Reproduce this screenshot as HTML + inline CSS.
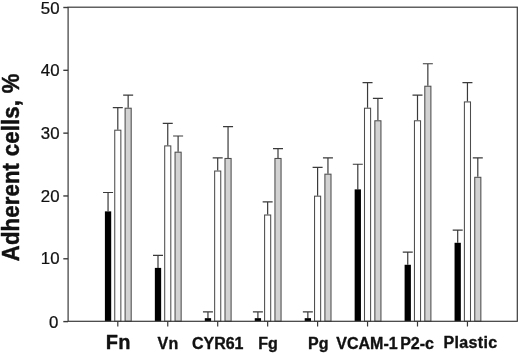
<!DOCTYPE html>
<html><head><meta charset="utf-8"><title>Adherent cells</title>
<style>html,body{margin:0;padding:0;background:#fff}body{width:520px;height:353px;overflow:hidden}</style>
</head><body>
<svg width="520" height="353" viewBox="0 0 520 353" style="display:block">
<rect width="520" height="353" fill="#fff"/>
<g font-family="'Liberation Sans', Arial, sans-serif" fill="#111">
<path d="M108.05 211.37V192.52M103.05 192.52H113.05" stroke="#3a3a3a" stroke-width="1.2" fill="none"/>
<rect x="104.90" y="211.37" width="6.3" height="109.94" fill="#000"/>
<path d="M117.80 129.70V107.71M112.80 107.71H122.80" stroke="#3a3a3a" stroke-width="1.2" fill="none"/>
<rect x="114.75" y="130.20" width="6.1" height="191.10" fill="#fff" stroke="#4c4c4c" stroke-width="1.05"/>
<path d="M128.15 107.71V95.15M123.15 95.15H133.15" stroke="#3a3a3a" stroke-width="1.2" fill="none"/>
<rect x="125.10" y="108.21" width="6.1" height="213.09" fill="#d2d2d2" stroke="#4c4c4c" stroke-width="1.05"/>
<path d="M158.00 267.90V255.34M153.00 255.34H163.00" stroke="#3a3a3a" stroke-width="1.2" fill="none"/>
<rect x="154.85" y="267.90" width="6.3" height="53.40" fill="#000"/>
<path d="M167.75 145.40V123.42M162.75 123.42H172.75" stroke="#3a3a3a" stroke-width="1.2" fill="none"/>
<rect x="164.70" y="145.90" width="6.1" height="175.40" fill="#fff" stroke="#4c4c4c" stroke-width="1.05"/>
<path d="M178.10 151.69V135.98M173.10 135.98H183.10" stroke="#3a3a3a" stroke-width="1.2" fill="none"/>
<rect x="175.05" y="152.19" width="6.1" height="169.11" fill="#d2d2d2" stroke="#4c4c4c" stroke-width="1.05"/>
<path d="M207.95 318.16V311.88M202.95 311.88H212.95" stroke="#3a3a3a" stroke-width="1.2" fill="none"/>
<rect x="204.80" y="318.16" width="6.3" height="3.14" fill="#000"/>
<path d="M217.70 170.53V157.97M212.70 157.97H222.70" stroke="#3a3a3a" stroke-width="1.2" fill="none"/>
<rect x="214.65" y="171.03" width="6.1" height="150.27" fill="#fff" stroke="#4c4c4c" stroke-width="1.05"/>
<path d="M228.05 157.97V126.56M223.05 126.56H233.05" stroke="#3a3a3a" stroke-width="1.2" fill="none"/>
<rect x="225.00" y="158.47" width="6.1" height="162.83" fill="#d2d2d2" stroke="#4c4c4c" stroke-width="1.05"/>
<path d="M257.90 318.16V311.88M252.90 311.88H262.90" stroke="#3a3a3a" stroke-width="1.2" fill="none"/>
<rect x="254.75" y="318.16" width="6.3" height="3.14" fill="#000"/>
<path d="M267.65 214.51V201.94M262.65 201.94H272.65" stroke="#3a3a3a" stroke-width="1.2" fill="none"/>
<rect x="264.60" y="215.01" width="6.1" height="106.29" fill="#fff" stroke="#4c4c4c" stroke-width="1.05"/>
<path d="M278.00 157.97V148.55M273.00 148.55H283.00" stroke="#3a3a3a" stroke-width="1.2" fill="none"/>
<rect x="274.95" y="158.47" width="6.1" height="162.83" fill="#d2d2d2" stroke="#4c4c4c" stroke-width="1.05"/>
<path d="M307.85 318.16V311.88M302.85 311.88H312.85" stroke="#3a3a3a" stroke-width="1.2" fill="none"/>
<rect x="304.70" y="318.16" width="6.3" height="3.14" fill="#000"/>
<path d="M317.60 195.66V167.39M312.60 167.39H322.60" stroke="#3a3a3a" stroke-width="1.2" fill="none"/>
<rect x="314.55" y="196.16" width="6.1" height="125.14" fill="#fff" stroke="#4c4c4c" stroke-width="1.05"/>
<path d="M327.95 173.67V157.97M322.95 157.97H332.95" stroke="#3a3a3a" stroke-width="1.2" fill="none"/>
<rect x="324.90" y="174.17" width="6.1" height="147.13" fill="#d2d2d2" stroke="#4c4c4c" stroke-width="1.05"/>
<path d="M357.80 189.38V164.25M352.80 164.25H362.80" stroke="#3a3a3a" stroke-width="1.2" fill="none"/>
<rect x="354.65" y="189.38" width="6.3" height="131.92" fill="#000"/>
<path d="M367.55 107.71V82.58M362.55 82.58H372.55" stroke="#3a3a3a" stroke-width="1.2" fill="none"/>
<rect x="364.50" y="108.21" width="6.1" height="213.09" fill="#fff" stroke="#4c4c4c" stroke-width="1.05"/>
<path d="M377.90 120.28V98.29M372.90 98.29H382.90" stroke="#3a3a3a" stroke-width="1.2" fill="none"/>
<rect x="374.85" y="120.78" width="6.1" height="200.52" fill="#d2d2d2" stroke="#4c4c4c" stroke-width="1.05"/>
<path d="M407.75 264.76V252.20M402.75 252.20H412.75" stroke="#3a3a3a" stroke-width="1.2" fill="none"/>
<rect x="404.60" y="264.76" width="6.3" height="56.54" fill="#000"/>
<path d="M417.50 120.28V95.15M412.50 95.15H422.50" stroke="#3a3a3a" stroke-width="1.2" fill="none"/>
<rect x="414.45" y="120.78" width="6.1" height="200.52" fill="#fff" stroke="#4c4c4c" stroke-width="1.05"/>
<path d="M427.85 85.73V63.74M422.85 63.74H432.85" stroke="#3a3a3a" stroke-width="1.2" fill="none"/>
<rect x="424.80" y="86.23" width="6.1" height="235.07" fill="#d2d2d2" stroke="#4c4c4c" stroke-width="1.05"/>
<path d="M457.70 242.78V230.21M452.70 230.21H462.70" stroke="#3a3a3a" stroke-width="1.2" fill="none"/>
<rect x="454.55" y="242.78" width="6.3" height="78.53" fill="#000"/>
<path d="M467.45 101.43V82.58M462.45 82.58H472.45" stroke="#3a3a3a" stroke-width="1.2" fill="none"/>
<rect x="464.40" y="101.93" width="6.1" height="219.37" fill="#fff" stroke="#4c4c4c" stroke-width="1.05"/>
<path d="M477.80 176.81V157.97M472.80 157.97H482.80" stroke="#3a3a3a" stroke-width="1.2" fill="none"/>
<rect x="474.75" y="177.31" width="6.1" height="143.99" fill="#d2d2d2" stroke="#4c4c4c" stroke-width="1.05"/>
<rect x="68.1" y="7.2" width="449.19999999999993" height="314.1" fill="none" stroke="#3a3a3a" stroke-width="1.2"/>
<path d="M63.30 321.60H68.1" stroke="#3a3a3a" stroke-width="1.4"/>
<text transform="translate(58.30 327.95) scale(1.065 1)" font-size="15.8" text-anchor="end" stroke="#111" stroke-width="0.25">0</text>
<path d="M63.30 258.78H68.1" stroke="#3a3a3a" stroke-width="1.4"/>
<text transform="translate(59.50 264.43) scale(1.065 1)" font-size="15.8" text-anchor="end" stroke="#111" stroke-width="0.25">10</text>
<path d="M63.30 195.96H68.1" stroke="#3a3a3a" stroke-width="1.4"/>
<text transform="translate(59.50 201.61) scale(1.065 1)" font-size="15.8" text-anchor="end" stroke="#111" stroke-width="0.25">20</text>
<path d="M63.30 133.14H68.1" stroke="#3a3a3a" stroke-width="1.4"/>
<text transform="translate(59.50 138.79) scale(1.065 1)" font-size="15.8" text-anchor="end" stroke="#111" stroke-width="0.25">30</text>
<path d="M63.30 70.32H68.1" stroke="#3a3a3a" stroke-width="1.4"/>
<text transform="translate(59.50 76.22) scale(1.065 1)" font-size="15.8" text-anchor="end" stroke="#111" stroke-width="0.25">40</text>
<path d="M63.30 7.50H68.1" stroke="#3a3a3a" stroke-width="1.4"/>
<text transform="translate(59.50 13.95) scale(1.065 1)" font-size="15.8" text-anchor="end" stroke="#111" stroke-width="0.25">50</text>
<path d="M117.80 321.3V326.5" stroke="#3a3a3a" stroke-width="1.2"/>
<text x="118.30" y="349.2" font-size="20" font-weight="bold" text-anchor="middle" letter-spacing="0.3" stroke="#111" stroke-width="0.35" stroke-linejoin="round">Fn</text>
<path d="M167.75 321.3V326.5" stroke="#3a3a3a" stroke-width="1.2"/>
<text x="168.05" y="348.6" font-size="16" font-weight="bold" text-anchor="middle" letter-spacing="0.4" stroke="#111" stroke-width="0.35" stroke-linejoin="round">Vn</text>
<path d="M217.70 321.3V326.5" stroke="#3a3a3a" stroke-width="1.2"/>
<text x="217.70" y="348.6" font-size="16" font-weight="bold" text-anchor="middle" letter-spacing="0" stroke="#111" stroke-width="0.35" stroke-linejoin="round">CYR61</text>
<path d="M267.65 321.3V326.5" stroke="#3a3a3a" stroke-width="1.2"/>
<text x="268.05" y="348.6" font-size="16" font-weight="bold" text-anchor="middle" letter-spacing="0" stroke="#111" stroke-width="0.35" stroke-linejoin="round">Fg</text>
<path d="M317.60 321.3V326.5" stroke="#3a3a3a" stroke-width="1.2"/>
<text x="318.20" y="348.6" font-size="16" font-weight="bold" text-anchor="middle" letter-spacing="0" stroke="#111" stroke-width="0.35" stroke-linejoin="round">Pg</text>
<path d="M367.55 321.3V326.5" stroke="#3a3a3a" stroke-width="1.2"/>
<text x="366.95" y="348.6" font-size="16" font-weight="bold" text-anchor="middle" letter-spacing="0" stroke="#111" stroke-width="0.35" stroke-linejoin="round">VCAM-1</text>
<path d="M417.50 321.3V326.5" stroke="#3a3a3a" stroke-width="1.2"/>
<text x="417.10" y="348.6" font-size="16" font-weight="bold" text-anchor="middle" letter-spacing="0" stroke="#111" stroke-width="0.35" stroke-linejoin="round">P2-c</text>
<path d="M467.45 321.3V326.5" stroke="#3a3a3a" stroke-width="1.2"/>
<text x="470.55" y="348.0" font-size="16" font-weight="bold" text-anchor="middle" letter-spacing="0.35" stroke="#111" stroke-width="0.35" stroke-linejoin="round">Plastic</text>
<text transform="translate(19.1 261.2) rotate(-90) scale(1 1.055)" font-size="22.15" font-weight="bold" letter-spacing="0.14" word-spacing="0.4" stroke="#111" stroke-width="0.45" stroke-linejoin="round">Adherent cells, %</text>
</g></svg>
</body></html>
